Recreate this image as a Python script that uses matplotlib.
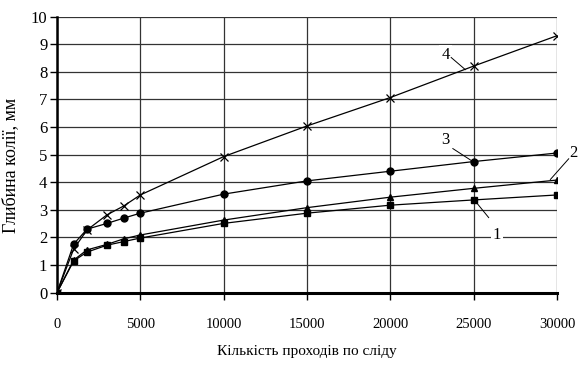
import matplotlib.pyplot as plt

plt.rcParams['font.family'] = ['Liberation Serif', 'DejaVu Serif']

# кількість проходів
passes = [0, 1000, 1800, 3000, 4000, 5000, 10000, 15000, 20000, 25000, 30000]

# глибина колії, мм
depth_1 = [0, 1.15, 1.47, 1.72, 1.85, 1.98, 2.51, 2.88, 3.17, 3.36, 3.54]
depth_2 = [0, 1.18, 1.55, 1.75, 1.95, 2.09, 2.63, 3.08, 3.46, 3.78, 4.08]
depth_3 = [0, 1.76, 2.30, 2.51, 2.70, 2.88, 3.57, 4.05, 4.40, 4.75, 5.06]
depth_4 = [0, 1.58, 2.27, 2.82, 3.14, 3.54, 4.93, 6.04, 7.07, 8.21, 9.31]

fig = plt.figure(figsize=(5.78, 3.70), dpi=100)
ax = fig.add_axes([0.0986, 0.209, 0.8651, 0.746])

lw = 0.9
ax.plot(passes, depth_1, color='black', lw=lw, marker='s', ms=5, zorder=3)
ax.plot(passes, depth_2, color='black', lw=lw, marker='^', ms=5, zorder=3)
ax.plot(passes, depth_3, color='black', lw=lw, marker='o', ms=5, zorder=3)
ax.plot(passes, depth_4, color='black', lw=lw, marker='x', ms=6, mew=0.9, zorder=3)

ax.set_xlim(0, 30000)
ax.set_ylim(0, 10)
ax.set_xticks(range(0, 30001, 5000))
ax.set_yticks(range(0, 11))
ax.grid(True, color='#333333', lw=0.9)
ax.set_axisbelow(True)

for side in ('top', 'right'):
    ax.spines[side].set_visible(False)
ax.spines['left'].set_linewidth(1.8)
ax.spines['bottom'].set_linewidth(2.2)

ax.tick_params(axis='x', direction='out', length=5, width=1, pad=13, labelsize=10.5)
ax.tick_params(axis='y', direction='out', length=5, width=1, pad=2, labelsize=12)

ax.set_xlabel('Кількість проходів по сліду', fontsize=11)
ax.xaxis.set_label_coords(0.5, -0.19)
ax.set_ylabel('Глибина колії, мм', fontsize=13)
ax.yaxis.set_label_coords(-0.075, 0.46)

# номери кривих з виносками
labels = [
    ('4', 23300, 8.62, (23650, 8.52), (24500, 8.08)),
    ('3', 23300, 5.52, (23750, 5.22), (24900, 4.77)),
    ('2', 31000, 5.05, (30700, 4.85), (29600, 4.10)),
    ('1', 26400, 2.08, (25900, 2.72), (25050, 3.35)),
]
for text, tx, ty, p0, p1 in labels:
    ax.text(tx, ty, text, fontsize=12, ha='center', va='center', zorder=4,
            clip_on=False,
            bbox=dict(facecolor='white', edgecolor='none', pad=1.5))
    ax.plot([p0[0], p1[0]], [p0[1], p1[1]], color='black', lw=0.7,
            clip_on=False, zorder=4)

fig.savefig('out.png', dpi=100)
